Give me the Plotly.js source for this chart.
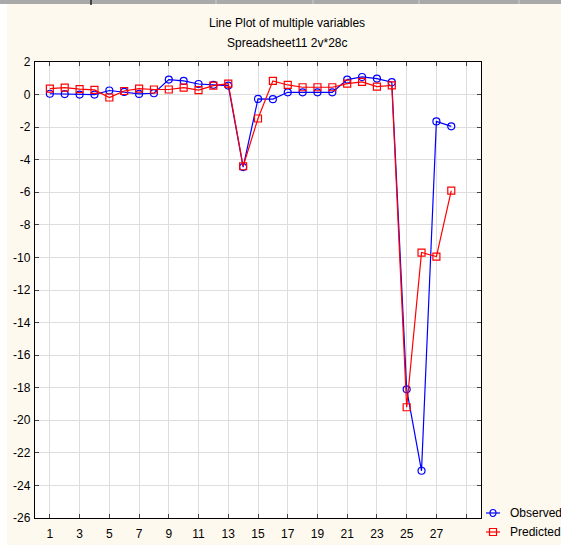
<!DOCTYPE html>
<html>
<head>
<meta charset="utf-8">
<script src="https://cdn.plot.ly/plotly-3.0.1.min.js"></script>
<style>
  html, body { margin: 0; padding: 0; background: #ffffff; }
  #chart { width: 561px; height: 545px; }
</style>
</head>
<body>
<div id="chart"></div>
<script>
// Case numbers (x) and the two variables
const caseNo = [1, 2, 3, 4, 5, 6, 7, 8, 9, 10, 11, 12, 13, 14,
                15, 16, 17, 18, 19, 20, 21, 22, 23, 24, 25, 26, 27, 28];
const observed = [0.05, 0.03, 0.0, 0.0, 0.25, 0.16, 0.04, 0.08, 0.92, 0.84, 0.65, 0.6, 0.55, -4.45,
                  -0.27, -0.28, 0.14, 0.14, 0.14, 0.14, 0.92, 1.08, 0.98, 0.76, -18.1, -23.1, -1.65, -1.95];
const predicted = [0.37, 0.43, 0.33, 0.29, -0.18, 0.22, 0.37, 0.31, 0.31, 0.43, 0.27, 0.55, 0.67, -4.4,
                   -1.47, 0.84, 0.59, 0.45, 0.45, 0.45, 0.67, 0.78, 0.49, 0.57, -19.2, -9.7, -9.95, -5.9];

const seriesNames = ['Observed', 'Predicted'];
const xTickVals = [1, 3, 5, 7, 9, 11, 13, 15, 17, 19, 21, 23, 25, 27, 29];
const xTickText = ['1', '3', '5', '7', '9', '11', '13', '15', '17', '19', '21', '23', '25', '27', ''];
const yTickVals = [-26, -24, -22, -20, -18, -16, -14, -12, -10, -8, -6, -4, -2, 0, 2];
const yTickText = ['-26', '-24', '-22', '-20', '-18', '-16', '-14', '-12', '-10', '-8', '-6', '-4', '-2', '0', '2'];
const titleLines = ['Line Plot of multiple variables', 'Spreadsheet11 2v*28c'];

// Page and plot-area geometry (pixels)
const W = 561, H = 545;
const L = 35, R = 481, T = 62, B = 518;
const px = x => (x - L) / (R - L);
const py = y => (B - y) / (B - T);

const FONT = 'Liberation Sans, Arial, sans-serif';
const BLUE = '#0000ff';
const RED = '#ff0000';

const traces = [
  {
    x: caseNo, y: observed, name: seriesNames[0],
    type: 'scatter', mode: 'lines+markers',
    line: { color: BLUE, width: 1.2 },
    marker: { symbol: 'circle-open', size: 7, color: BLUE, line: { width: 1.2, color: BLUE } },
    showlegend: false
  },
  {
    x: caseNo, y: predicted, name: seriesNames[1],
    type: 'scatter', mode: 'lines+markers',
    line: { color: RED, width: 1.2 },
    marker: { symbol: 'square-open', size: 7, color: RED, line: { width: 1.2, color: RED } },
    showlegend: false
  }
];

const shapes = [
  // window strip along the top edge
  { type: 'rect', xref: 'paper', yref: 'paper', x0: px(0), x1: px(W), y0: py(0), y1: py(4),
    fillcolor: '#a9a9a9', line: { width: 0 }, layer: 'above' },
  { type: 'line', xref: 'paper', yref: 'paper', x0: px(91), x1: px(91), y0: py(0), y1: py(5),
    line: { color: '#222222', width: 1.5 } },
  { type: 'line', xref: 'paper', yref: 'paper', x0: px(216), x1: px(216), y0: py(0), y1: py(4),
    line: { color: '#cfcfcf', width: 1 } },
  { type: 'line', xref: 'paper', yref: 'paper', x0: px(313), x1: px(313), y0: py(0), y1: py(4),
    line: { color: '#cfcfcf', width: 1 } },
  { type: 'line', xref: 'paper', yref: 'paper', x0: px(419), x1: px(419), y0: py(0), y1: py(4),
    line: { color: '#cfcfcf', width: 1 } },
  { type: 'line', xref: 'paper', yref: 'paper', x0: px(519), x1: px(519), y0: py(0), y1: py(4),
    line: { color: '#cfcfcf', width: 1 } },
  // white margin on the left edge
  { type: 'rect', xref: 'paper', yref: 'paper', x0: px(0), x1: px(7), y0: py(4), y1: py(H),
    fillcolor: '#ffffff', line: { width: 0 } },
  // legend keys
  { type: 'line', xref: 'paper', yref: 'paper', x0: px(486), x1: px(500), y0: py(513), y1: py(513),
    line: { color: BLUE, width: 1.2 } },
  { type: 'circle', xref: 'paper', yref: 'paper', x0: px(490), x1: px(496), y0: py(516.5), y1: py(509.5),
    line: { color: BLUE, width: 1.2 }, fillcolor: 'rgba(0,0,0,0)' },
  { type: 'line', xref: 'paper', yref: 'paper', x0: px(486), x1: px(500), y0: py(532), y1: py(532),
    line: { color: RED, width: 1.2 } },
  { type: 'rect', xref: 'paper', yref: 'paper', x0: px(489.5), x1: px(496.5), y0: py(535.5), y1: py(528.5),
    line: { color: RED, width: 1.2 }, fillcolor: 'rgba(0,0,0,0)' }
];

const annotations = [
  { text: titleLines[0], xref: 'paper', yref: 'paper', x: px(287), y: py(23),
    xanchor: 'center', yanchor: 'middle', showarrow: false, font: { family: FONT, size: 12, color: '#000' } },
  { text: titleLines[1], xref: 'paper', yref: 'paper', x: px(287), y: py(43),
    xanchor: 'center', yanchor: 'middle', showarrow: false, font: { family: FONT, size: 12, color: '#000' } },
  { text: seriesNames[0], xref: 'paper', yref: 'paper', x: px(508), y: py(513),
    xanchor: 'left', yanchor: 'middle', showarrow: false, font: { family: FONT, size: 12, color: '#000' } },
  { text: seriesNames[1], xref: 'paper', yref: 'paper', x: px(508), y: py(532),
    xanchor: 'left', yanchor: 'middle', showarrow: false, font: { family: FONT, size: 12, color: '#000' } }
];

const axisCommon = {
  showline: true, linecolor: '#000000', linewidth: 1.2, mirror: 'allticks',
  ticks: 'inside', ticklen: 4, tickwidth: 1, tickcolor: '#444444',
  showgrid: true, gridcolor: '#dddddd', gridwidth: 1,
  zeroline: false,
  tickfont: { family: FONT, size: 12, color: '#000000' }
};

const layout = {
  width: W, height: H,
  margin: { l: L, r: W - R, t: T, b: H - B, pad: 0 },
  paper_bgcolor: '#fdf9ef',
  plot_bgcolor: '#ffffff',
  showlegend: false,
  xaxis: Object.assign({}, axisCommon, {
    range: [0, 30], tickmode: 'array', tickvals: xTickVals, ticktext: xTickText,
    ticklabelstandoff: 4
  }),
  yaxis: Object.assign({}, axisCommon, {
    range: [-26, 2], tickmode: 'array', tickvals: yTickVals, ticktext: yTickText,
    ticklabelstandoff: 1
  }),
  shapes: shapes,
  annotations: annotations
};

Plotly.newPlot('chart', traces, layout, { displayModeBar: false, staticPlot: true });
</script>
</body>
</html>
